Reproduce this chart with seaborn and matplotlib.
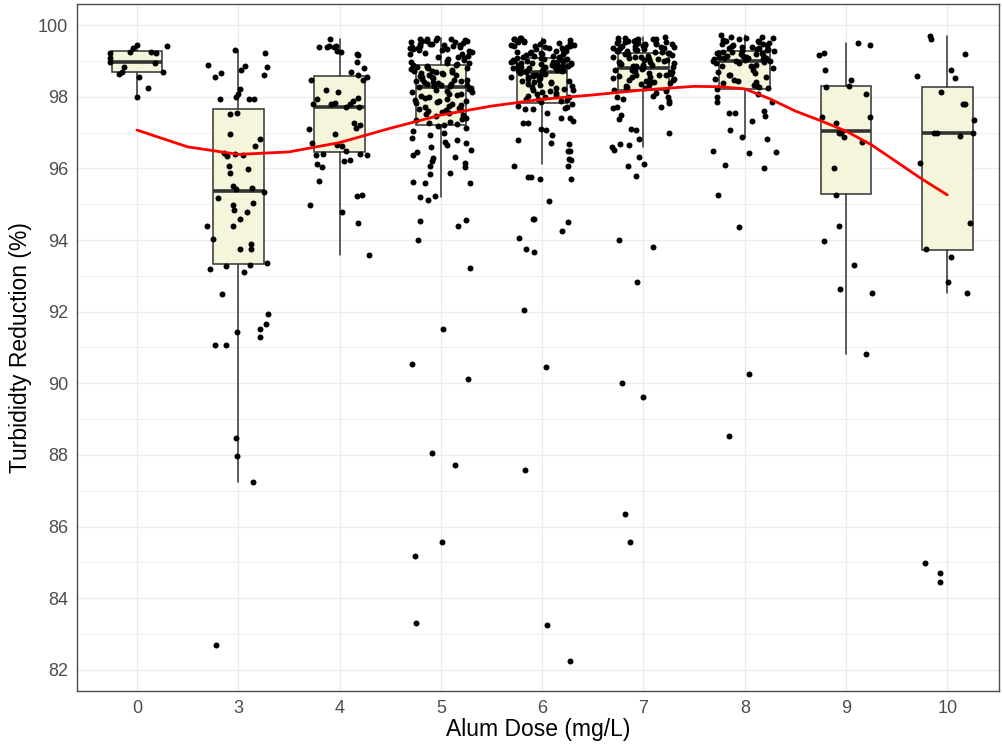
import numpy as np
import pandas as pd
import matplotlib
matplotlib.use("Agg")
import matplotlib.pyplot as plt
from matplotlib.ticker import MultipleLocator
import seaborn as sns

# ---- data -------------------------------------------------------------
dose_labels = ["0", "3", "4", "5", "6", "7", "8", "9", "10"]

dose_0 = [99.07, 98.93, 99.37, 99.26, 99.42, 98.55, 98.00, 98.98, 98.70, 99.44,
          98.25, 99.23, 99.26, 99.21, 98.82, 98.70, 98.63]

dose_3 = [99.30, 99.21, 98.90, 98.86, 98.82, 98.65, 98.74, 98.60, 98.56, 98.22,
          97.95, 97.93, 98.00, 97.95, 98.07, 97.51, 97.54, 96.95, 96.81, 96.62,
          96.34, 96.37, 96.44, 96.40, 96.08, 95.97, 95.86, 95.42, 95.46, 95.51,
          95.35, 95.18, 95.04, 94.99, 94.84, 94.78, 94.60, 94.40, 94.40, 94.02,
          93.89, 93.75, 93.75, 93.35, 93.30, 93.20, 93.28, 93.10, 92.49, 91.93,
          91.66, 91.52, 91.44, 91.30, 91.06, 91.06, 88.48, 87.24, 87.98, 82.70]

dose_4 = [99.61, 99.42, 99.38, 99.40, 99.40, 99.42, 99.19, 99.17, 99.26, 99.28,
          98.98, 98.79, 98.68, 98.60, 98.54, 98.47, 98.47, 98.19, 98.14, 97.97,
          97.87, 97.93, 97.81, 97.81, 97.80, 97.70, 97.83, 97.70, 97.27, 97.22,
          97.13, 97.09, 96.96, 96.65, 96.70, 96.62, 96.49, 96.40, 96.37, 96.37,
          96.40, 96.23, 96.11, 96.05, 96.21, 95.65, 95.24, 95.26, 94.98, 94.78,
          94.48, 93.58]

dose_5 = [99.62, 99.60, 99.58, 99.57, 99.55, 99.63, 99.52, 99.50, 99.48, 99.61,
          99.45, 99.44, 99.42, 99.40, 99.56, 99.38, 99.36, 99.35, 99.47, 99.33,
          99.31, 99.53, 99.30, 99.41, 99.59, 99.37, 99.46, 99.34, 99.28, 99.25,
          99.22, 99.20, 99.18, 99.15, 99.12, 99.10, 99.08, 99.05, 99.02, 98.97,
          98.86, 98.84, 98.83, 98.79, 98.78, 98.75, 98.73, 98.72, 98.69, 98.67,
          98.66, 98.63, 98.61, 98.60, 98.57, 98.55, 98.54, 98.51, 98.50, 98.48,
          98.45, 98.43, 98.42, 98.40, 98.38, 98.35, 98.34, 98.32, 98.30, 98.29,
          98.94, 98.92, 98.90, 98.89, 98.95, 98.99, 98.81, 98.70, 98.47, 98.36,
          98.26, 98.24, 98.21, 98.20, 98.17, 98.14, 98.12, 98.09, 98.07, 98.04,
          98.02, 98.00, 97.97, 97.94, 97.92, 97.89, 97.87, 97.84, 97.82, 97.79,
          97.77, 97.74, 97.72, 97.69, 97.67, 97.64, 97.62, 97.59, 97.57, 97.54,
          97.52, 97.49, 97.46, 97.42, 97.38, 97.34, 97.30, 97.27, 97.24, 97.22,
          97.18, 97.12, 97.05, 96.98, 96.92, 96.86, 96.80, 96.75, 96.70, 96.65,
          96.60, 96.52, 96.45, 96.38, 96.32, 96.28, 96.20, 96.14, 96.07, 96.05,
          95.88, 95.84, 95.63, 95.60, 95.58, 95.22, 95.21, 95.13, 94.56, 94.54,
          94.40, 93.99, 93.21, 91.52, 90.55, 90.12, 88.05, 87.72, 85.57, 85.17,
          83.30]

dose_6 = [99.65, 99.63, 99.62, 99.60, 99.58, 99.57, 99.55, 99.54, 99.52, 99.50,
          99.49, 99.47, 99.45, 99.44, 99.42, 99.41, 99.39, 99.38, 99.36, 99.35,
          99.33, 99.31, 99.30, 99.28, 99.27, 99.25, 99.23, 99.22, 99.20, 99.19,
          99.17, 99.15, 99.14, 99.12, 99.11, 99.09, 99.08, 99.56, 99.43, 99.26,
          99.06, 99.05, 99.03, 99.02, 99.01, 98.99, 98.98, 98.97, 98.95, 98.94,
          98.93, 98.92, 98.90, 98.89, 98.88, 98.86, 98.85, 98.84, 98.83, 98.81,
          98.80, 98.79, 98.78, 98.77, 98.76, 98.75, 98.74, 98.73, 98.72, 98.71,
          98.70, 98.96, 98.87, 98.82, 98.91, 99.00,
          98.68, 98.66, 98.64, 98.62, 98.60, 98.58, 98.56, 98.54, 98.52, 98.49,
          98.47, 98.45, 98.43, 98.40, 98.38, 98.35, 98.33, 98.30, 98.28, 98.25,
          98.23, 98.20, 98.18, 98.15, 98.13, 98.10, 98.08, 98.05, 98.03, 98.00,
          97.98, 97.95, 97.93, 97.90, 97.88, 97.85, 98.57, 98.42,
          97.80, 97.75, 97.70, 97.68, 97.66, 97.65, 97.54, 97.42, 97.42, 97.33,
          97.27, 97.26, 97.11, 97.07, 96.93, 96.79, 96.70, 96.67, 96.49, 96.48,
          96.25, 96.23, 96.08, 96.07, 95.76, 95.75, 95.70, 95.69, 95.10, 94.60,
          94.58, 94.51, 94.26, 94.05, 93.74, 93.66, 92.06, 90.46, 87.58, 83.24,
          82.26]

dose_7 = [99.66, 99.64, 99.63, 99.61, 99.60, 99.58, 99.57, 99.55, 99.54, 99.52,
          99.51, 99.49, 99.48, 99.46, 99.45, 99.43, 99.42, 99.40, 99.39, 99.37,
          99.36, 99.34, 99.33, 99.31, 99.30, 99.28, 99.27, 99.25, 99.24, 99.62,
          99.50, 99.41, 99.35, 99.29, 99.56, 99.47,
          99.22, 99.20, 99.18, 99.16, 99.14, 99.12, 99.10, 99.08, 99.06, 99.04,
          99.02, 99.00, 98.98, 98.96, 98.94, 98.92, 98.90, 98.88, 98.86, 98.84,
          98.82, 98.80, 99.21, 99.11, 99.03, 98.95, 98.87, 98.81,
          98.78, 98.76, 98.74, 98.72, 98.70, 98.68, 98.66, 98.64, 98.62, 98.60,
          98.58, 98.56, 98.54, 98.52, 98.50, 98.48, 98.45, 98.42, 98.40, 98.37,
          98.35, 98.32, 98.30, 98.27, 98.25, 98.22, 98.20, 98.71, 98.61, 98.47,
          98.15, 98.10, 98.02, 98.00, 98.00, 97.93, 97.89, 97.83, 97.70, 97.70,
          97.68, 97.49, 97.38, 97.09, 97.07, 97.00, 96.82, 96.68, 96.64, 96.60,
          96.51, 96.32, 96.11, 96.08, 95.80, 94.00, 93.80, 92.82, 90.00, 89.62,
          86.34, 85.57]

dose_8 = [99.72, 99.68, 99.66, 99.63, 99.61, 99.58, 99.56, 99.53, 99.51, 99.48,
          99.46, 99.44, 99.42, 99.40, 99.38, 99.36, 99.34, 99.32, 99.30, 99.29,
          99.65, 99.55, 99.45, 99.35,
          99.27, 99.25, 99.23, 99.21, 99.19, 99.17, 99.15, 99.13, 99.11, 99.09,
          99.07, 99.05, 99.03, 99.01, 99.26, 99.22, 99.18, 99.12, 99.08, 99.04,
          99.00, 99.00,
          98.97, 98.93, 98.89, 98.85, 98.80, 98.75, 98.70, 98.65, 98.60, 98.55,
          98.50, 98.46, 98.42, 98.38, 98.34, 98.30, 98.27, 98.24, 98.95, 98.87,
          98.62, 98.44,
          98.21, 98.09, 98.00, 97.86, 97.86, 97.60, 97.55, 97.54, 97.46, 97.33,
          97.07, 96.87, 96.81, 96.49, 96.45, 96.42, 96.09, 96.01, 95.27, 94.37,
          90.25, 88.53]

dose_9 = [99.44, 99.49, 98.76, 99.21, 99.16, 98.48, 98.26, 98.30, 98.09, 97.44,
          97.43, 97.27, 97.00, 96.99, 97.02, 96.87, 96.73, 96.00, 95.27, 94.39,
          93.96, 93.31, 92.63, 92.53, 90.82]

dose_10 = [99.70, 99.61, 99.18, 98.76, 98.58, 98.51, 98.14, 97.80, 97.80, 97.36,
           96.90, 96.99, 96.99, 96.99, 96.14, 94.48, 93.75, 93.52, 92.82, 92.52,
           84.71, 84.98, 84.44]

# box statistics per dose (lower whisker, Q1, median, Q3, upper whisker)
box_lo = [98.00, 87.24, 93.58, 95.21, 96.11, 96.60, 96.84, 90.82, 92.52]
box_q1 = [98.70, 93.32, 96.46, 97.21, 97.83, 98.19, 98.23, 95.28, 93.71]
box_med = [98.98, 95.38, 97.72, 98.28, 98.70, 98.79, 99.00, 97.04, 97.00]
box_q3 = [99.27, 97.65, 98.58, 98.88, 99.07, 99.23, 99.28, 98.31, 98.28]
box_hi = [99.45, 99.30, 99.61, 99.63, 99.65, 99.66, 99.72, 99.49, 99.70]

# loess trend, sampled along the dose axis (category index units)
trend_x = [0, 0.5, 1, 1.5, 2, 2.5, 3, 3.5, 4, 4.5, 5, 5.5, 5.75, 6, 6.25,
           6.5, 6.75, 7, 7.25, 7.5, 7.75, 8]
trend_y = [97.07, 96.60, 96.39, 96.46, 96.72, 97.12, 97.49, 97.74, 97.93,
           98.05, 98.19, 98.29, 98.28, 98.22, 97.94, 97.60, 97.33, 97.04,
           96.66, 96.18, 95.70, 95.26]

groups = [dose_0, dose_3, dose_4, dose_5, dose_6, dose_7, dose_8, dose_9, dose_10]
df = pd.DataFrame({
    "dose": np.concatenate([[lab] * len(g) for lab, g in zip(dose_labels, groups)]),
    "reduction": np.concatenate(groups),
})

# ---- figure -----------------------------------------------------------
sns.set_style("white")
plt.rcParams["font.family"] = ["Liberation Sans", "DejaVu Sans"]

fig = plt.figure(figsize=(10.02, 7.48), dpi=100)
ax = fig.add_axes([0.0768, 0.0762, 0.9202, 0.9185])

# boxes
stats = [dict(whislo=lo, q1=a, med=m, q3=b, whishi=hi, fliers=[])
         for lo, a, m, b, hi in zip(box_lo, box_q1, box_med, box_q3, box_hi)]
ax.bxp(stats, positions=range(len(dose_labels)), widths=0.5, patch_artist=True,
       showfliers=False, manage_ticks=False,
       boxprops=dict(facecolor="#F5F5DC", edgecolor="#333333", linewidth=1.1),
       medianprops=dict(color="#333333", linewidth=2.6, solid_capstyle="butt"),
       whiskerprops=dict(color="#333333", linewidth=1.1),
       capprops=dict(linewidth=0), zorder=2)

# jittered observations
np.random.seed(7)
sns.stripplot(data=df, x="dose", y="reduction", order=dose_labels, jitter=0.31,
              color="black", size=4.3, linewidth=0, ax=ax, zorder=3)

# trend line
sns.lineplot(x=trend_x, y=trend_y, color="red", linewidth=2.0, ax=ax, zorder=4)

# axes styling
ax.set_xlim(-0.593, 8.51)
ax.set_ylim(81.41, 100.59)
ax.set_yticks(np.arange(82, 101, 2))
ax.yaxis.set_minor_locator(MultipleLocator(1))
ax.set_xticks(range(len(dose_labels)))
ax.set_xticklabels(dose_labels)
ax.set_axisbelow(True)
ax.grid(which="major", color="#EBEBEB", linewidth=0.9)
ax.grid(which="minor", axis="y", color="#F0F0F0", linewidth=0.7)
for sp in ax.spines.values():
    sp.set_color("#4D4D4D")
    sp.set_linewidth(1.0)
ax.tick_params(which="major", length=3.2, width=0.8, color="#4D4D4D",
               labelsize=13, labelcolor="#4D4D4D", pad=3)
ax.tick_params(which="minor", length=0)

ax.set_xlabel("Alum Dose (mg/L)", fontsize=16.5, color="black")
ax.set_ylabel("Turbididty Reduction (%)", fontsize=16.5, color="black")
ax.xaxis.set_label_coords(0.5, -0.040)
ax.yaxis.set_label_coords(-0.049, 0.5)

fig.savefig("out.png", dpi=100)
